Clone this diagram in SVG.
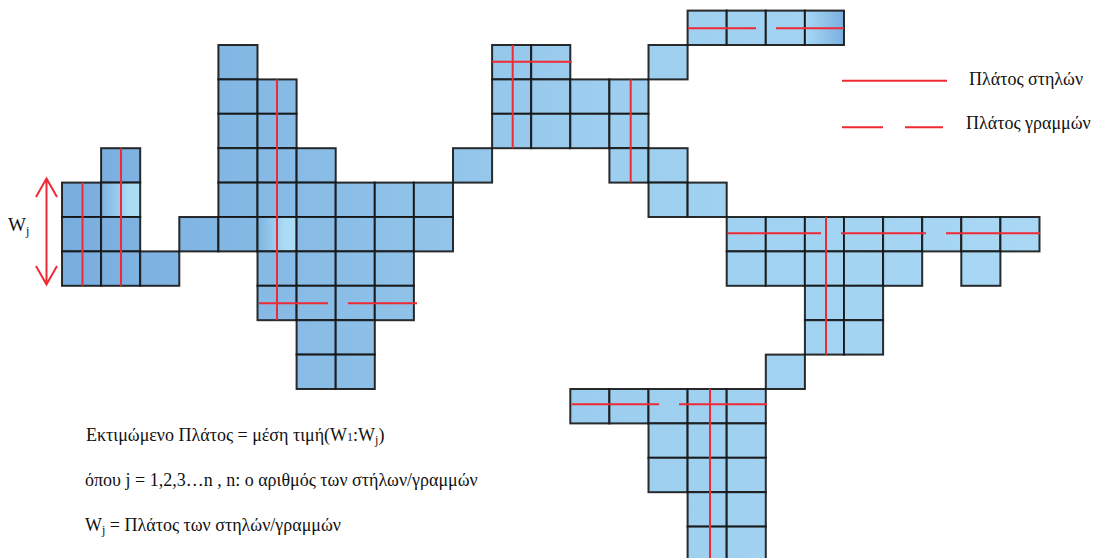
<svg xmlns="http://www.w3.org/2000/svg" width="1098" height="558" viewBox="0 0 1098 558">
<defs>
<linearGradient id="gAll" gradientUnits="userSpaceOnUse" x1="62" y1="0" x2="1040" y2="0">
<stop offset="0" stop-color="#78addf"/>
<stop offset="0.3" stop-color="#8cbfe7"/>
<stop offset="0.55" stop-color="#9dceef"/>
<stop offset="1" stop-color="#a8d8f4"/>
</linearGradient>
<linearGradient id="gL2R" x1="0" y1="0" x2="1" y2="0">
<stop offset="0" stop-color="#7fb3e0"/>
<stop offset="0.7" stop-color="#aadcf6"/>
<stop offset="1" stop-color="#aadcf6"/>
</linearGradient>
<linearGradient id="gR2L" x1="0" y1="0" x2="1" y2="0">
<stop offset="0" stop-color="#a8d8f4"/>
<stop offset="1" stop-color="#7ab0e0"/>
</linearGradient>
</defs>
<style>
rect{fill:url(#gAll);stroke:#151515;stroke-width:2;stroke-opacity:0.9}
rect.gl{fill:url(#gL2R)}
rect.gr{fill:url(#gR2L)}
.red{stroke:#ee2a35;stroke-width:2;fill:none}
text{font-family:"Liberation Serif","DejaVu Serif","Times New Roman",serif;fill:#111}
</style>
<g id="cluster-left">
<rect x="101.1" y="148.2" width="39.1" height="34.4"/>
<rect x="62" y="182.6" width="39.1" height="34.4"/>
<rect class="gl" x="101.1" y="182.6" width="39.1" height="34.4"/>
<rect x="62" y="217" width="39.1" height="34.4"/>
<rect x="101.1" y="217" width="39.1" height="34.4"/>
<rect x="62" y="251.4" width="39.1" height="34.4"/>
<rect x="101.1" y="251.4" width="39.1" height="34.4"/>
<rect x="140.2" y="251.4" width="39.1" height="34.4"/>
<rect x="179.3" y="217" width="39.1" height="34.4"/>
</g>
<g id="cluster-middle">
<rect x="218.4" y="45" width="39.1" height="34.4"/>
<rect x="218.4" y="79.4" width="39.1" height="34.4"/>
<rect x="257.5" y="79.4" width="39.1" height="34.4"/>
<rect x="218.4" y="113.8" width="39.1" height="34.4"/>
<rect x="257.5" y="113.8" width="39.1" height="34.4"/>
<rect x="218.4" y="148.2" width="39.1" height="34.4"/>
<rect x="257.5" y="148.2" width="39.1" height="34.4"/>
<rect x="296.6" y="148.2" width="39.1" height="34.4"/>
<rect x="218.4" y="182.6" width="39.1" height="34.4"/>
<rect x="257.5" y="182.6" width="39.1" height="34.4"/>
<rect x="296.6" y="182.6" width="39.1" height="34.4"/>
<rect x="335.7" y="182.6" width="39.1" height="34.4"/>
<rect x="374.8" y="182.6" width="39.1" height="34.4"/>
<rect x="413.9" y="182.6" width="39.1" height="34.4"/>
<rect x="218.4" y="217" width="39.1" height="34.4"/>
<rect class="gl" x="257.5" y="217" width="39.1" height="34.4"/>
<rect x="296.6" y="217" width="39.1" height="34.4"/>
<rect x="335.7" y="217" width="39.1" height="34.4"/>
<rect x="374.8" y="217" width="39.1" height="34.4"/>
<rect x="413.9" y="217" width="39.1" height="34.4"/>
<rect x="257.5" y="251.4" width="39.1" height="34.4"/>
<rect x="296.6" y="251.4" width="39.1" height="34.4"/>
<rect x="335.7" y="251.4" width="39.1" height="34.4"/>
<rect x="374.8" y="251.4" width="39.1" height="34.4"/>
<rect x="257.5" y="285.8" width="39.1" height="34.4"/>
<rect x="296.6" y="285.8" width="39.1" height="34.4"/>
<rect x="335.7" y="285.8" width="39.1" height="34.4"/>
<rect x="374.8" y="285.8" width="39.1" height="34.4"/>
<rect x="296.6" y="320.2" width="39.1" height="34.4"/>
<rect x="335.7" y="320.2" width="39.1" height="34.4"/>
<rect x="296.6" y="354.6" width="39.1" height="34.4"/>
<rect x="335.7" y="354.6" width="39.1" height="34.4"/>
<rect x="453" y="148.2" width="39.1" height="34.4"/>
</g>
<g id="cluster-upper">
<rect x="492.1" y="45" width="39.1" height="34.4"/>
<rect x="531.2" y="45" width="39.1" height="34.4"/>
<rect x="492.1" y="79.4" width="39.1" height="34.4"/>
<rect x="531.2" y="79.4" width="39.1" height="34.4"/>
<rect x="570.3" y="79.4" width="39.1" height="34.4"/>
<rect x="609.4" y="79.4" width="39.1" height="34.4"/>
<rect x="492.1" y="113.8" width="39.1" height="34.4"/>
<rect x="531.2" y="113.8" width="39.1" height="34.4"/>
<rect x="570.3" y="113.8" width="39.1" height="34.4"/>
<rect x="609.4" y="113.8" width="39.1" height="34.4"/>
<rect x="609.4" y="148.2" width="39.1" height="34.4"/>
<rect x="648.5" y="148.2" width="39.1" height="34.4"/>
<rect x="648.5" y="45" width="39.1" height="34.4"/>
<rect x="687.6" y="10.6" width="39.1" height="34.4"/>
<rect x="726.7" y="10.6" width="39.1" height="34.4"/>
<rect x="765.8" y="10.6" width="39.1" height="34.4"/>
<rect class="gr" x="804.9" y="10.6" width="39.1" height="34.4"/>
<rect x="648.5" y="182.6" width="39.1" height="34.4"/>
<rect x="687.6" y="182.6" width="39.1" height="34.4"/>
</g>
<g id="cluster-right">
<rect x="726.7" y="217" width="39.1" height="34.4"/>
<rect x="765.8" y="217" width="39.1" height="34.4"/>
<rect x="804.9" y="217" width="39.1" height="34.4"/>
<rect x="844" y="217" width="39.1" height="34.4"/>
<rect x="883.1" y="217" width="39.1" height="34.4"/>
<rect x="922.2" y="217" width="39.1" height="34.4"/>
<rect x="961.3" y="217" width="39.1" height="34.4"/>
<rect x="1000.4" y="217" width="39.1" height="34.4"/>
<rect x="726.7" y="251.4" width="39.1" height="34.4"/>
<rect x="765.8" y="251.4" width="39.1" height="34.4"/>
<rect x="804.9" y="251.4" width="39.1" height="34.4"/>
<rect x="844" y="251.4" width="39.1" height="34.4"/>
<rect x="883.1" y="251.4" width="39.1" height="34.4"/>
<rect x="961.3" y="251.4" width="39.1" height="34.4"/>
<rect x="804.9" y="285.8" width="39.1" height="34.4"/>
<rect x="844" y="285.8" width="39.1" height="34.4"/>
<rect x="804.9" y="320.2" width="39.1" height="34.4"/>
<rect x="844" y="320.2" width="39.1" height="34.4"/>
<rect x="765.8" y="354.6" width="39.1" height="34.4"/>
</g>
<g id="cluster-bottom">
<rect x="570.3" y="389" width="39.1" height="34.4"/>
<rect x="609.4" y="389" width="39.1" height="34.4"/>
<rect x="648.5" y="389" width="39.1" height="34.4"/>
<rect x="687.6" y="389" width="39.1" height="34.4"/>
<rect x="726.7" y="389" width="39.1" height="34.4"/>
<rect x="648.5" y="423.4" width="39.1" height="34.4"/>
<rect x="687.6" y="423.4" width="39.1" height="34.4"/>
<rect x="726.7" y="423.4" width="39.1" height="34.4"/>
<rect x="648.5" y="457.8" width="39.1" height="34.4"/>
<rect x="687.6" y="457.8" width="39.1" height="34.4"/>
<rect x="726.7" y="457.8" width="39.1" height="34.4"/>
<rect x="687.6" y="492.2" width="39.1" height="34.4"/>
<rect x="726.7" y="492.2" width="39.1" height="34.4"/>
<rect x="687.6" y="526.6" width="39.1" height="34.4"/>
<rect x="726.7" y="526.6" width="39.1" height="34.4"/>
</g>
<g id="width-lines" class="red">
<path d="M82.5 182.6V285.8M121 148.2V285.8"/>
<path d="M277 79.4V320.2M259 303.3H328M348 303.3H417"/>
<path d="M512.7 45V148.2M492.1 61.7H571.7M630.7 79.4V182.6"/>
<path d="M688 28.3H756M776 28.3H844"/>
<path d="M727.7 233.3H821M841 233.3H926M946 233.3H1040M826 217V354.6"/>
<path d="M571.7 404.3H659M679 404.3H767M710 389V558"/>
</g>
<g id="wj-arrow" class="red">
<path d="M46.5 178.5V284.5M36 197L46.5 178.5L57 197M36 266L46.5 284.5L57 266"/>
</g>
<text id="wj-label" x="8" y="231" font-size="19">W<tspan font-size="12" dy="4">j</tspan></text>
<g id="legend">
<path class="red" d="M842 80.7H947"/>
<text x="969" y="84.5" font-size="18">Πλάτος στηλών</text>
<path class="red" d="M842 127.3H883M905 127.3H943"/>
<text x="966" y="129" font-size="18">Πλάτος γραμμών</text>
</g>
<g id="formula">
<text x="86" y="441" font-size="18">Εκτιμώμενο Πλάτος = μέση τιμή(W<tspan font-size="12">1</tspan>:W<tspan font-size="12" dy="3">j</tspan><tspan dy="-3">)</tspan></text>
<text x="85" y="486" font-size="18">όπου j = 1,2,3…n , n: ο αριθμός των στήλων/γραμμών</text>
<text x="85" y="531" font-size="18">W<tspan font-size="12" dy="3">j</tspan><tspan dy="-3"> = Πλάτος των στηλών/γραμμών</tspan></text>
</g>
</svg>
